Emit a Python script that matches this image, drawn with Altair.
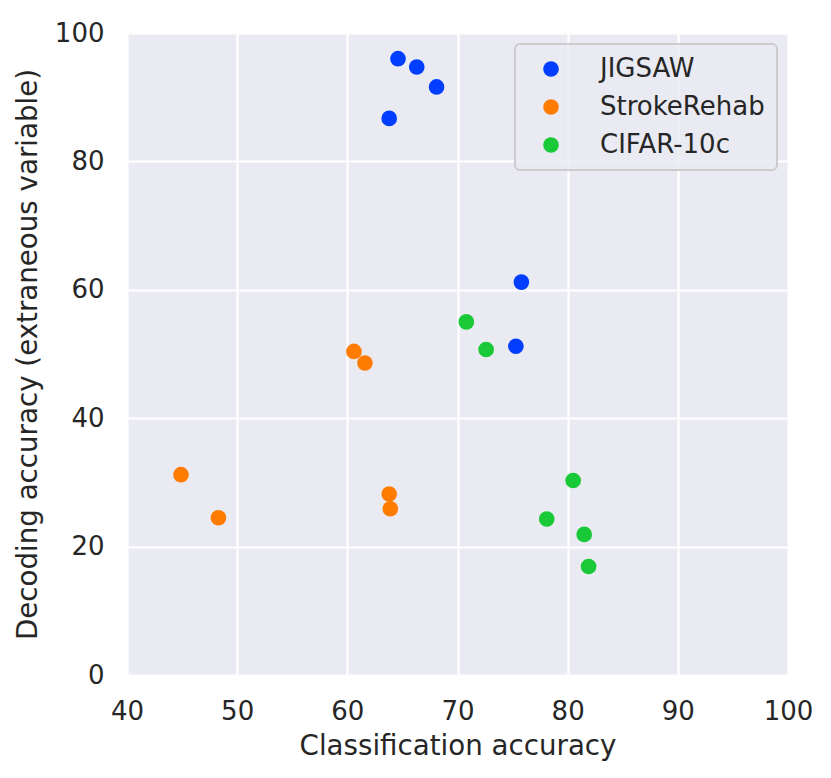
import altair as alt
import pandas as pd

datasets = ["JIGSAW"] * 6 + ["StrokeRehab"] * 6 + ["CIFAR-10c"] * 6
classification = [64.6, 66.3, 68.1, 63.8, 75.8, 75.3,
                  60.6, 61.6, 44.9, 48.3, 63.8, 63.9,
                  70.8, 72.6, 80.5, 78.1, 81.5, 81.9]
decoding = [96.0, 94.7, 91.6, 86.7, 61.2, 51.2,
            50.4, 48.6, 31.2, 24.5, 28.2, 25.9,
            55.0, 50.7, 30.3, 24.3, 21.9, 16.9]

series_order = ["JIGSAW", "StrokeRehab", "CIFAR-10c"]
series_colors = ["#023EFF", "#FF7C00", "#1AC938"]
x_ticks = [40, 50, 60, 70, 80, 90, 100]
y_ticks = [0, 20, 40, 60, 80, 100]

df = pd.DataFrame({"dataset": datasets, "cls": classification, "dec": decoding})

FONT = "DejaVu Sans"
TXT = "#262626"

chart = (
    alt.Chart(df)
    .mark_circle(size=245, opacity=1)
    .encode(
        x=alt.X("cls:Q", title="Classification accuracy",
                scale=alt.Scale(domain=[40, 100], nice=False, zero=False),
                axis=alt.Axis(values=x_ticks, labelFlush=False)),
        y=alt.Y("dec:Q", title="Decoding accuracy (extraneous variable)",
                scale=alt.Scale(domain=[0, 100], nice=False),
                axis=alt.Axis(values=y_ticks, labelFlush=False)),
        color=alt.Color("dataset:N",
                        scale=alt.Scale(domain=series_order, range=series_colors),
                        sort=series_order,
                        legend=alt.Legend(title=None, orient="top-right", offset=11)),
    )
    .properties(width=661, height=642,
                padding={"left": 6, "top": 12, "right": 5, "bottom": 5})
    .configure_view(fill="#EAEAF2", stroke="transparent")
    .configure_axis(
        grid=True, gridColor="#FFFFFF", gridWidth=2.2, gridOpacity=1,
        ticks=False, domain=False,
        labelFont=FONT, labelFontSize=26, labelColor=TXT, labelPadding=23,
        titleFont=FONT, titleFontSize=27.7, titleFontWeight="normal", titleColor=TXT,
    )
    .configure_axisX(titlePadding=8)
    .configure_axisY(titlePadding=12)
    .configure_legend(
        fillColor="rgba(234,234,242,0.8)", strokeColor="#CCCCCC", strokeWidth=2,
        cornerRadius=5, padding=12, rowPadding=12,
        symbolType="circle", symbolSize=245, symbolStrokeWidth=0, symbolOffset=11,
        labelFont=FONT, labelFontSize=26, labelColor=TXT, labelOffset=36,
        labelLimit=400,
    )
)

chart.save("out.html", embed_options={"renderer": "svg", "actions": False})
